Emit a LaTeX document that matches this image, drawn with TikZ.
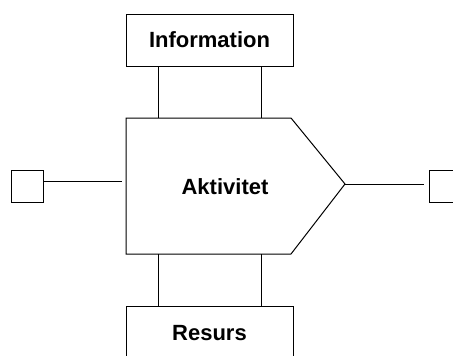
\documentclass[tikz,border=0pt]{standalone}
\usepackage{fontspec}
\setmainfont{Liberation Sans}
\begin{document}
\begin{tikzpicture}[x=1pt,y=-1pt,
  line/.style={draw=black,line width=1pt},
  box/.style={line,rectangle,inner sep=0pt,font=\bfseries\fontsize{22}{24}\selectfont},
  port/.style={line,rectangle,inner sep=0pt,minimum width=32pt,minimum height=32pt}]
\useasboundingbox (0,0) rectangle (453,356);
\clip (0,0) rectangle (453,356);

% information and resource boxes
\node[box,minimum width=167pt,minimum height=52pt] (info) at (209.5,40) {Information};
\node[box,minimum width=167pt,minimum height=80pt,anchor=north] (res) at (209.5,306) {};
\node[font=\bfseries\fontsize{22}{24}\selectfont] (reslabel) at (209.5,333) {Resurs};

% activity: pentagon pointing to the right
\node[font=\bfseries\fontsize{22}{24}\selectfont] (act) at (225,187) {Aktivitet};
\coordinate (act-nw) at (126,118);
\coordinate (act-ne) at (291,118);
\coordinate (act-tip) at (345,184);
\coordinate (act-se) at (291,254);
\coordinate (act-sw) at (126,254);
\draw[line,line join=miter] (act-nw) -- (act-ne) -- (act-tip) -- (act-se) -- (act-sw) -- cycle;

% vertical links
\coordinate (act-t1) at (158,118);
\coordinate (act-t2) at (261,118);
\coordinate (act-b1) at (158,254);
\coordinate (act-b2) at (261,254);
\draw[line] (info.south -| act-t1) -- (act-t1);
\draw[line] (info.south -| act-t2) -- (act-t2);
\draw[line] (act-b1) -- (res.north -| act-b1);
\draw[line] (act-b2) -- (res.north -| act-b2);

% input and output ports
\node[port] (in) at (27,186) {};
\node[port,anchor=west] (out) at (429,186) {};
\coordinate (in-end) at (122,181);
\coordinate (out-end) at (424,184);
\draw[line] (in.east |- in-end) -- (in-end);
\draw[line] (act-tip) -- (out-end);
\end{tikzpicture}
\end{document}
